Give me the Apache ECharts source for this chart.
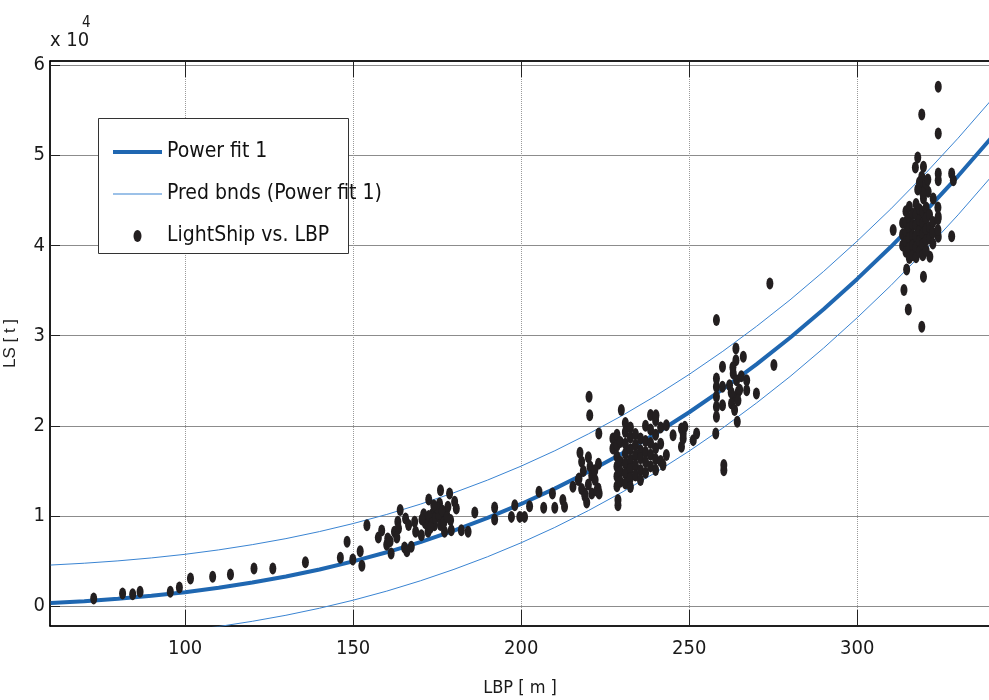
<!DOCTYPE html>
<html><head><meta charset="utf-8">
<script src="https://cdn.jsdelivr.net/npm/echarts@6/dist/echarts.min.js"></script>
<style>html,body{margin:0;padding:0;background:#fff}#c{width:989px;height:700px}</style>
</head><body><div id="c"></div><script>
// ---- data ----
const fitLBP = [60,70,80,90,100,110,120,130,140,150,160,170,180,190,200,210,220,230,240,250,260,270,280,290,300,310,320,330,340];
const fitLS = [358,557,817,1145,1550,2038,2616,3291,4071,4963,5972,7107,8375,9782,11332,13034,14897,16925,19121,21500,24062,26815,29760,32922,36286,39850,43664,47694,51972];
const upperLS = [4560,4760,5020,5350,5750,6240,6820,7490,8270,9160,10170,11310,12580,13980,15530,17230,19100,21120,23320,25700,28260,31020,33960,37120,40490,44050,47860,51890,56170];
const lowerLS = [-3940,-3740,-3480,-3160,-2750,-2260,-1680,-1010,-230,660,1670,2810,4080,5480,7030,8730,10600,12630,14820,17200,19760,22520,25460,28620,31990,35550,39360,43390,47670];
const lightShipPoints = [
 [72.8,850],[81.4,1410],[84.4,1330],[86.6,1590],[95.6,1590],[98.3,2070],[101.6,3070],[108.2,3250],[113.5,3510],[120.5,4180],[126.1,4180],[135.8,4880],[146.2,5360],[148.2,7130],
 [149.9,5180],[152.1,6100],[152.6,4470],[154.1,8980],[160.3,7510],[161.3,5840],[162.3,8240],[163.3,9350],[164.0,10650],[165.3,6510],[165.6,9730],[167.3,6580],[168.3,9350],[168.6,8240],[170.3,7870],[172.3,8240],[172.5,11830],[172.8,9540],[173.7,10280],[174.2,8980],[174.9,10650],[175.7,11390],[176.0,12860],[176.7,9730],[177.2,8240],[177.7,10460],[178.2,11010],[178.7,12500],[179.0,9540],[180.2,11570],[180.7,10830],[179.2,8430],[182.2,8430],[184.2,8240],[186.2,10390],[192.1,10950],[192.1,9620],
 [171.5,9200],[172.5,10000],[173.5,9200],[174.5,9800],[175.5,10100],[176.0,9000],[173.0,8700],[177.0,9300],[171.0,10200],[175.0,10900],[174.0,11200],[176.5,10600],[170.5,9600],[178.0,9900],[163.5,8600],[166.5,9000],[157.5,7600],[158.5,8400],[160.0,6800],[161.0,7200],[163.0,7600],[166.0,6100],
 [197.1,9900],[198.1,11200],[199.6,9900],[201.0,9900],[202.5,11090],[205.3,12680],[206.7,10900],[209.3,12500],[210.0,10900],[212.4,11760],[212.9,11010],
 [215.4,13230],[217.2,14160],[218.9,12500],[222.9,13050],[228.8,11200],[220.2,23210],[220.4,21180],[223.1,19150],[217.5,17000],[218.0,16000],[218.5,15000],[217.0,14000],[218.0,13000],[219.0,12200],[220.0,16500],[220.5,15500],[221.0,14500],[220.0,13500],[221.0,12500],[219.5,11500],[222.0,14000],[222.5,12800],[223.0,15800],[221.9,15080],[223.2,12500],[227.3,18600],[227.3,17490],[229.8,21740],[228.8,11760],
 [228.5,19000],[228.5,17800],[228.5,16600],[228.5,15500],[228.5,14400],[228.5,13300],
 [229.5,18200],[229.5,16000],[229.5,14900],[229.5,13800],
 [231,20300],[231,19300],[231,18000],[231,16900],[231,15800],[231,14700],[231,13600],
 [232.5,19800],[232.5,18700],[232.5,17400],[232.5,16200],[232.5,15200],[232.5,14200],[232.5,13200],
 [234,19100],[234,17900],[234,16700],[234,15600],[234,14500],
 [235.5,18600],[235.5,17300],[235.5,16400],[235.5,15100],[235.5,14000],
 [237,20000],[237,18300],[237,17100],[237,16000],[237,14800],
 [238.5,21200],[238.5,19600],[238.5,18100],[238.5,16800],[238.5,15500],
 [240,20600],[240,19000],[240,17500],[240,16300],[240,15100],
 [241.5,19800],[241.5,18000],[241.5,16100],
 [240.1,21180],[243.2,20070],[243.2,16750],[242.2,15640],[245.2,18960],[247.7,19700],[248.2,19150],[247.7,17670],[251.2,18410],[252.2,19150],
 [274.0,35790],[258.1,31720],[275.2,26730],[263.9,28580],[263.9,27280],[266.1,27650],[259.9,26540],[258.1,25250],[258.1,24320],[258.1,23210],[259.9,24320],[258.1,22100],[259.9,22290],[258.1,20990],[257.9,19150],[263.1,25810],[264.1,25060],[264.6,23770],[263.1,23210],[262.6,22480],[263.5,21740],[264.3,20440],[267.1,25060],[267.1,23950],[270.0,23590],[248.2,18600],[248.7,19880],[260.3,15080],[260.3,15640],
 [262.0,24500],[265.0,24000],[263.0,26500],[264.5,22800],[262.5,23700],[265.5,25500],
 [324.1,57590],[319.2,54530],[324.1,52420],[318.0,49760],[317.3,48650],[319.7,48720],[324.1,47980],[324.1,47240],[328.1,47980],[328.6,47240],[319.2,47610],[319.2,46500],[319.7,45210],[322.6,45210],[321.1,45950],[310.7,41700],[328.1,41030],[314.7,37340],[319.7,36520],[313.9,35050],[315.2,32900],[319.2,30970],[324.1,40950],[324.1,43170],[321.6,38740],
 [318.5,47000],[320.5,46800],[319.5,45800],[318.0,46200],[321.0,47300],
 [313.5,42500],[313.5,41200],[313.5,40000],
 [314.5,43800],[314.5,42600],[314.5,41500],[314.5,40400],[314.5,39300],
 [315.5,44300],[315.5,43000],[315.5,41900],[315.5,40800],[315.5,39700],[315.5,38600],
 [316.5,43500],[316.5,42300],[316.5,41100],[316.5,40000],[316.5,38900],
 [317.5,44600],[317.5,43400],[317.5,42200],[317.5,41000],[317.5,39800],[317.5,38700],
 [318.5,44000],[318.5,42800],[318.5,41600],[318.5,40500],[318.5,39300],
 [319.5,43700],[319.5,42500],[319.5,41300],[319.5,40100],[319.5,38900],
 [320.5,44200],[320.5,43000],[320.5,41800],[320.5,40600],[320.5,39400],
 [321.5,43400],[321.5,42000],[321.5,40800],
 [322.5,42600],[322.5,41400],[322.5,40200],
 [324.0,44200],[324.0,42900],[324.0,41700]
];
const xTicks = [100,150,200,250,300];
const yTicks = [0,10000,20000,30000,40000,50000,60000];
const seriesNames = ['Power fit 1','Pred bnds (Power fit 1)','LightShip vs. LBP'];

// ---- chart ----
const zip = (xs, ys) => xs.map((x, i) => [x, ys[i]]);
const NARROW = "'Liberation Sans Narrow','Arial Narrow','DejaVu Sans Condensed',sans-serif";
const X_MIN = 59.8, X_MAX = 339.5, Y_MIN = -2200, Y_MAX = 60450;
const chart = echarts.init(document.getElementById('c'), null, {renderer: 'canvas'});
const option = {
  animation: false,
  backgroundColor: '#fff',
  grid: {left: 50, top: 61, width: 940, height: 565, show: true, borderColor: '#000', borderWidth: 1,
         containLabel: false, outerBoundsMode: 'none'},
  xAxis: [{
    type: 'value', min: X_MIN, max: X_MAX, position: 'bottom',
    axisLine: {show: true, onZero: false, lineStyle: {color: '#000', width: 1.5}},
    axisTick: {show: true, inside: true, length: 16, customValues: xTicks, lineStyle: {color: '#222'}},
    axisLabel: {customValues: xTicks, fontSize: 20, fontFamily: NARROW, color: '#1a1a1a', margin: 13},
    splitLine: {show: true, lineStyle: {color: '#9a9a9a', type: 'dotted', width: 1}},
    name: 'LBP [ m ]', nameLocation: 'middle', nameGap: 53,
    nameTextStyle: {fontSize: 18, fontFamily: NARROW, color: '#1a1a1a'}
  }, {
    type: 'value', min: X_MIN, max: X_MAX, position: 'top',
    axisLine: {show: true, onZero: false, lineStyle: {color: '#000', width: 1.5}},
    axisTick: {show: true, inside: true, length: 16, customValues: xTicks, lineStyle: {color: '#222'}},
    axisLabel: {show: false}, splitLine: {show: false}
  }],
  yAxis: [{
    type: 'value', min: Y_MIN, max: Y_MAX,
    axisLine: {show: true, onZero: false, lineStyle: {color: '#000', width: 1.5}},
    axisTick: {show: true, inside: true, length: 10, customValues: yTicks, lineStyle: {color: '#222'}},
    axisLabel: {customValues: yTicks, fontSize: 20, fontFamily: NARROW, color: '#1a1a1a', margin: 5,
      formatter: v => String(Math.round(v / 10000))},
    splitLine: {show: true, lineStyle: {color: '#8c8c8c', type: 'solid', width: 1}},
    name: 'LS [ t ]', nameLocation: 'middle', nameGap: 31,
    nameTextStyle: {fontSize: 17, fontFamily: "'Liberation Sans',Arial,sans-serif", color: '#222'}
  }],
  legend: {
    orient: 'vertical', left: 108, top: 136, itemWidth: 49, itemHeight: 12, itemGap: 20,
    selectedMode: false, z: 11,
    textStyle: {fontSize: 21, fontFamily: NARROW, color: '#111', lineHeight: 22},
    data: [
      {name: seriesNames[0], icon: 'path://M0,0H49V4H0Z'},
      {name: seriesNames[1], icon: 'path://M0,0H49V1H0Z'},
      {name: seriesNames[2], icon: 'path://M4,0A4,6,0,1,1,4,12A4,6,0,1,1,4,0Z'}
    ]
  },
  graphic: [
    {type: 'rect', left: 98, top: 118, z: 10, shape: {width: 250, height: 135},
     style: {fill: '#fff', stroke: '#333', lineWidth: 1}},
    {type: 'text', left: 50, top: 31, z: 10, style: {text: 'x 10', font: "20px " + NARROW, fill: '#1a1a1a'}},
    {type: 'text', left: 82, top: 16, z: 10, style: {text: '4', font: "15px " + NARROW, fill: '#1a1a1a'}}
  ],
  series: [
    {name: seriesNames[0], type: 'line', data: zip(fitLBP, fitLS), symbol: 'none', showSymbol: false, z: 3,
     lineStyle: {width: 4, color: '#1f67b1'}, itemStyle: {color: '#1f67b1'}},
    {name: seriesNames[1], type: 'line', data: zip(fitLBP, upperLS), symbol: 'none', showSymbol: false, z: 3,
     lineStyle: {width: 1, color: '#3a84d2'}, itemStyle: {color: '#3a84d2'}},
    {name: seriesNames[1], type: 'line', data: zip(fitLBP, lowerLS), symbol: 'none', showSymbol: false, z: 3,
     lineStyle: {width: 1, color: '#3a84d2'}, itemStyle: {color: '#3a84d2'}},
    {name: seriesNames[2], type: 'scatter', data: lightShipPoints, symbol: 'circle', symbolSize: [7, 12], z: 5,
     itemStyle: {color: '#231f20', opacity: 1}}
  ]
};
chart.setOption(option);
</script></body></html>
